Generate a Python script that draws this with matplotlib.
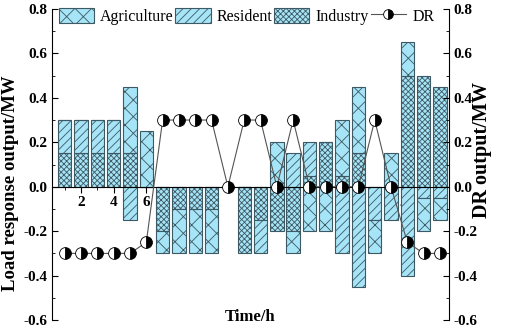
import numpy as np
import matplotlib.pyplot as plt
from matplotlib.patches import Patch
from matplotlib.lines import Line2D
from matplotlib.ticker import MultipleLocator

plt.rcParams['font.family'] = 'Liberation Serif'
plt.rcParams['hatch.linewidth'] = 0.6
plt.rcParams['hatch.color'] = '#3d5963'

hours = np.arange(1, 25)
agriculture = [0, 0, 0, 0, 0.3, 0.25, -0.1, -0.2, -0.2, -0.2, 0, 0,
               0, 0.2, -0.1, -0.2, -0.2, 0.25, 0.3, -0.15, 0.15, 0.15, -0.15, -0.1]
resident = [0.15, 0.15, 0.15, 0.15, -0.15, 0, 0, 0, 0, 0, 0, 0,
            -0.15, 0, 0.15, 0.15, 0, -0.3, -0.45, -0.15, -0.15, -0.4, -0.05, -0.05]
industry = [0.15, 0.15, 0.15, 0.15, 0.15, 0, -0.2, -0.1, -0.1, -0.1, 0, -0.3,
            -0.15, -0.2, -0.2, 0.05, 0.2, 0.05, 0.15, 0, 0, 0.5, 0.5, 0.45]
dr = [-0.3, -0.3, -0.3, -0.3, -0.3, -0.25, 0.3, 0.3, 0.3, 0.3, 0, 0.3,
      0.3, 0, 0.3, 0, 0, 0, 0, 0.3, 0, -0.25, -0.3, -0.3]

fill = '#a6e4f7'
edge = '#3d5963'
series = [('Industry', industry, 'xxxxxx'),
          ('Resident', resident, '////'),
          ('Agriculture', agriculture, 'xx')]

fig = plt.figure(figsize=(5.05, 3.30), dpi=100)
ax = fig.add_axes([0.103, 0.03, 0.786, 0.943])

# stack positive and negative parts separately
pos_base = np.zeros(24)
neg_base = np.zeros(24)
for name, vals, hatch in series:
    v = np.array(vals)
    base = np.where(v >= 0, pos_base, neg_base)
    ax.bar(hours, v, 0.82, bottom=base, color=fill, edgecolor=edge,
           linewidth=0.8, hatch=hatch, zorder=2)
    pos_base += np.where(v > 0, v, 0)
    neg_base += np.where(v < 0, v, 0)

ax.set_xlim(0.22, 24.55)
ax.set_ylim(-0.6, 0.8)
ax.spines['top'].set_visible(False)
ax.spines['right'].set_visible(False)
ax.spines['bottom'].set_position(('data', 0))
ax.spines['bottom'].set_zorder(3)
ax.xaxis.set_major_locator(MultipleLocator(2))
ax.xaxis.set_minor_locator(MultipleLocator(1))
ax.yaxis.set_major_locator(MultipleLocator(0.2))
ax.yaxis.set_minor_locator(MultipleLocator(0.1))
ax.yaxis.set_major_formatter(plt.FormatStrFormatter('%.1f'))
ax.tick_params(axis='x', which='both', direction='out', pad=2.5, labelsize=11)
ax.tick_params(axis='x', which='major', length=4)
ax.tick_params(axis='x', which='minor', length=2.5)
ax.tick_params(axis='y', which='both', direction='in', labelsize=11)
ax.tick_params(axis='y', which='major', length=4)
ax.tick_params(axis='y', which='minor', length=2.5)
for lab in ax.get_xticklabels() + ax.get_yticklabels():
    lab.set_fontweight('bold')

ax.set_ylabel('Load response output/MW', fontsize=13.5, fontweight='bold')
ax.yaxis.set_label_coords(-0.084, 0.44)
ax.set_xlabel('Time/h', fontsize=12, fontweight='bold')
ax.xaxis.set_label_coords(0.5, 0.035)

ax2 = ax.twinx()
ax2.plot(hours, dr, color='#555555', linewidth=0.8, marker='o', markersize=8.5,
         fillstyle='right', markerfacecolor='black', markerfacecoloralt='white',
         markeredgecolor='black', markeredgewidth=0.6, zorder=4)
ax2.set_ylim(-0.6, 0.8)
ax2.spines['top'].set_visible(False)
ax2.spines['left'].set_visible(False)
ax2.spines['bottom'].set_visible(False)
ax2.yaxis.set_major_locator(MultipleLocator(0.2))
ax2.yaxis.set_minor_locator(MultipleLocator(0.1))
ax2.yaxis.set_major_formatter(plt.FormatStrFormatter('%.1f'))
ax2.tick_params(axis='y', which='both', direction='in', labelsize=11)
ax2.tick_params(axis='y', which='major', length=4)
ax2.tick_params(axis='y', which='minor', length=2.5)
for lab in ax2.get_yticklabels():
    lab.set_fontweight('bold')
ax2.set_ylabel('DR output/MW', fontsize=14.5, fontweight='bold')
ax2.yaxis.set_label_coords(1.058, 0.547)

handles = [Patch(facecolor=fill, edgecolor=edge, hatch='xx', linewidth=0.8),
           Patch(facecolor=fill, edgecolor=edge, hatch='////', linewidth=0.8),
           Patch(facecolor=fill, edgecolor=edge, hatch='xxxxxx', linewidth=0.8),
           Line2D([], [], color='#555555', linewidth=0.8, marker='o', markersize=7,
                  fillstyle='right', markerfacecolor='black',
                  markerfacecoloralt='white', markeredgecolor='black',
                  markeredgewidth=0.6)]
labels = ['Agriculture', 'Resident', 'Industry', 'DR']
ax2.legend(handles, labels, loc='upper center', bbox_to_anchor=(0.49, 1.035),
           ncol=4, frameon=False, fontsize=11.5, handlelength=2.2,
           handleheight=1.1, handletextpad=0.4, columnspacing=0.1,
           borderaxespad=0.2)

fig.savefig('out.png', dpi=100)
